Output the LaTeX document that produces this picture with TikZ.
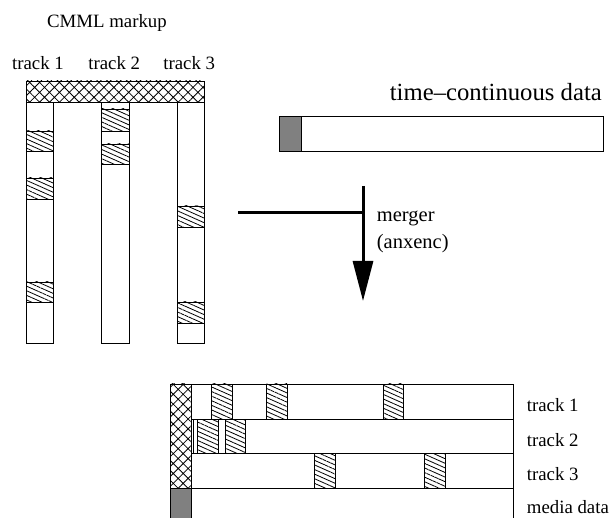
\documentclass[tikz,border=0pt]{standalone}
\usepackage{fontspec}
\setmainfont{Liberation Serif}
\usetikzlibrary{patterns.meta,arrows.meta}
\definecolor{mediagray}{RGB}{128,128,128}
\begin{document}
\begin{tikzpicture}[x=1pt,y=-1pt,
  box/.style={draw=black,line width=0.9pt},
  hatchbox/.style={box,pattern={Lines[angle=-24,distance=4.2pt,line width=0.8pt]}},
  crossbox/.style={box,pattern={Hatch[angle=45,distance=7pt,line width=0.8pt]}},
  graybox/.style={box,fill=mediagray},
  lbl/.style={font=\fontsize{18.8}{22}\selectfont,inner sep=0pt},
  biglbl/.style={font=\fontsize{24.7}{28}\selectfont,inner sep=0pt},
  midlbl/.style={font=\fontsize{20.5}{26.6}\selectfont,inner sep=0pt},
  thick line/.style={line width=3pt}
]
\useasboundingbox (0,0) rectangle (613,518);
\clip (0,0) rectangle (613,518);

% ---- CMML markup (top left)
\node[lbl,anchor=base] (cmml) at (107,27.5) {CMML markup};
\node[lbl,anchor=base] (t1) at (38,70) {track 1};
\node[lbl,anchor=base] (t2) at (114.2,70) {track 2};
\node[lbl,anchor=base] (t3) at (189.2,70) {track 3};

\draw[box] (26,102) rectangle (53,343);
\draw[box] (101,102) rectangle (129,343);
\draw[box] (177,102) rectangle (204,343);
\draw[crossbox] (26,81) rectangle (204,102);

\draw[hatchbox] (26,131) rectangle (53,151);
\draw[hatchbox] (26,178) rectangle (53,199);
\draw[hatchbox] (26,282) rectangle (53,302);
\draw[hatchbox] (101,109) rectangle (129,131);
\draw[hatchbox] (101,144) rectangle (129,164);
\draw[hatchbox] (177,206) rectangle (204,227);
\draw[hatchbox] (177,302) rectangle (204,323);

% ---- time-continuous data
\node[biglbl,anchor=base east] (tcd) at (602,100.7) {time\textendash continuous data};
\draw[box] (279,116) rectangle (603,151);
\draw[graybox] (279,116) rectangle (301,151);

% ---- merger
\coordinate (mstart) at (238,213);
\coordinate (mjoin) at (363,213);
\coordinate (mtop) at (363,186);
\coordinate (mtip) at (363,301);
\draw[thick line] (mstart) -- (mjoin);
\draw[thick line,-{Triangle[length=40pt,width=20pt]}] (mtop) -- (mtip);
\node[midlbl,anchor=base west] (merger) at (376.7,221.7) {merger};
\node[midlbl,anchor=base west] (anxenc) at (376.7,248.3) {(anxenc)};

% ---- merged result (bottom)
\draw[box] (191,384) rectangle (513,419);
\draw[box] (193,419) rectangle (513,453);
\draw[box] (191,453) rectangle (513,488);
\draw[box] (191,488) rectangle (513,530);
\draw[crossbox] (170,384) rectangle (191,488);
\draw[graybox] (170,488) rectangle (191,530);

\draw[hatchbox] (211.5,384) rectangle (232,419);
\draw[hatchbox] (266.7,384) rectangle (287,419);
\draw[hatchbox] (383.3,384) rectangle (403.5,419);
\draw[hatchbox] (197.5,419) rectangle (218.5,453);
\draw[hatchbox] (225,419) rectangle (245.7,453);
\draw[hatchbox] (314.3,453) rectangle (335,488);
\draw[hatchbox] (424.3,453) rectangle (445,488);

\node[lbl,anchor=base west] (bt1) at (526.7,411.7) {track 1};
\node[lbl,anchor=base west] (bt2) at (526.7,446.7) {track 2};
\node[lbl,anchor=base west] (bt3) at (526.7,480) {track 3};
\node[lbl,anchor=base west] (bmd) at (526.7,513.3) {media data};
\end{tikzpicture}
\end{document}
